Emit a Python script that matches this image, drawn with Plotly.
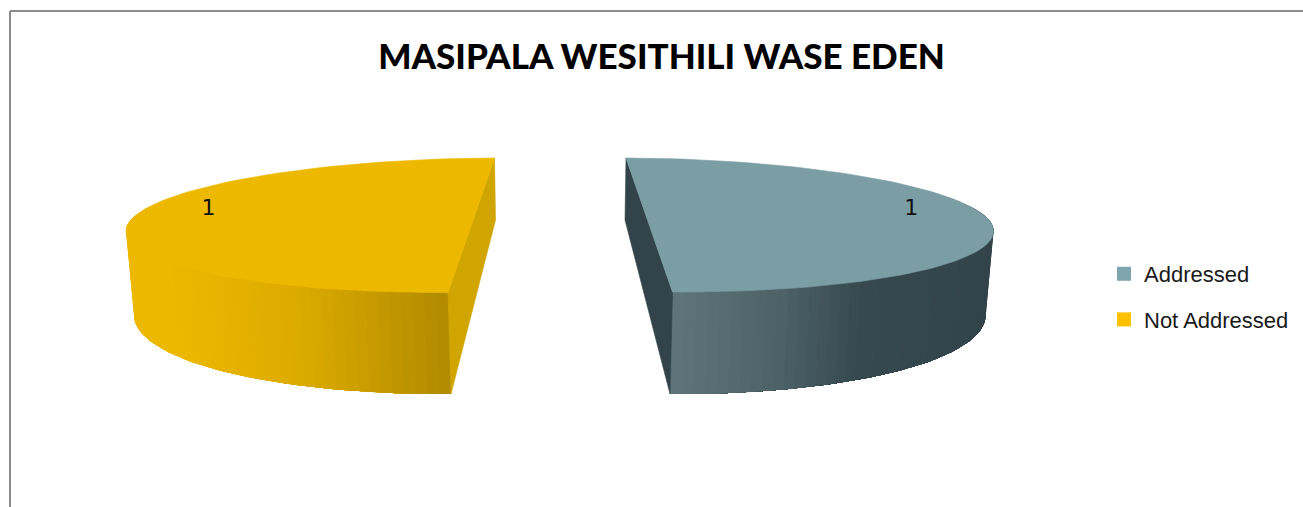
import math
import plotly.graph_objects as go

TITLE = "MASIPALA WESITHILI WASE EDEN"
categories = ["Addressed", "Not Addressed"]
values = [1, 1]
legend_colors = ["#7FA6AE", "#FFC000"]
top_colors = ["#7A9EA4", "#EDB900"]
inner_colors = ["#32444A", "#D1A500"]
# gradient stops along the outer wall: (pixel x, rgb)
wall_stops = [
    [(672, (94, 118, 123)), (780, (76, 98, 102)), (860, (54, 73, 78)), (995, (50, 68, 73))],
    [(125, (236, 184, 0)), (175, (236, 184, 0)), (300, (220, 171, 0)), (450, (176, 138, 0))],
]
# perspective projection of each exploded slice
geometry = [
    dict(top_c=(649.25, 225.0), top_u=(23.25, 67.0), top_v=(343.5, 1.5),
         bot_c=(647.5, 307.0), bot_u=(22.5, 87.0), bot_v=(337.5, 2.0)),
    dict(top_c=(471.25, 225.25), top_u=(-23.25, 67.25), top_v=(-344.5, 1.5),
         bot_c=(473.25, 307.0), bot_u=(-22.25, 87.0), bot_v=(-338.5, 2.0)),
]
LABEL_T, LABEL_R = 72.5, 0.817


def pt(c, u, v, t, r=1.0):
    s, k = math.sin(t), math.cos(t)
    return (c[0] + r * (v[0] * s - u[0] * k), c[1] + r * (v[1] * s - u[1] * k))


def wall_color(stops, x):
    if x <= stops[0][0]:
        return stops[0][1]
    for (x0, c0), (x1, c1) in zip(stops, stops[1:]):
        if x <= x1:
            f = (x - x0) / (x1 - x0)
            return tuple(c0[i] + f * (c1[i] - c0[i]) for i in range(3))
    return stops[-1][1]


def poly(points, color, edge=0.6):
    return go.Scatter(
        x=[p[0] for p in points] + [points[0][0]],
        y=[p[1] for p in points] + [points[0][1]],
        mode="lines", fill="toself", fillcolor=color,
        line=dict(color=color, width=edge),
        showlegend=False, hoverinfo="skip",
    )


fig = go.Figure()
total = sum(values)
for val, g, top, inner, stops in zip(values, geometry, top_colors, inner_colors, wall_stops):
    sweep = 2 * math.pi * val / total
    N = 90
    ts = [sweep * i / N for i in range(N + 1)]
    tc, tu, tv = g["top_c"], g["top_u"], g["top_v"]
    bc, bu, bv = g["bot_c"], g["bot_u"], g["bot_v"]
    # outer wall: overlapping bands painted from the rim to the front, so no seams show
    wall_ts = [t for t in ts if t >= math.radians(70)]
    for i in range(len(wall_ts) - 1):
        rest = wall_ts[i:]
        p = [pt(tc, tu, tv, t) for t in rest] + [pt(bc, bu, bv, t) for t in reversed(rest)]
        a, b = rest[0], rest[1]
        xm = (pt(tc, tu, tv, a)[0] + pt(tc, tu, tv, b)[0] + pt(bc, bu, bv, a)[0] + pt(bc, bu, bv, b)[0]) / 4
        r_, g_, b_ = wall_color(stops, xm)
        fig.add_trace(poly(p, f"rgb({r_:.0f},{g_:.0f},{b_:.0f})", edge=0))
    # inner cut face
    fig.add_trace(poly([pt(tc, tu, tv, 0), pt(tc, tu, tv, sweep),
                        pt(bc, bu, bv, sweep), pt(bc, bu, bv, 0)], inner))
    # top face
    fig.add_trace(poly([pt(tc, tu, tv, t) for t in ts], top))
    # data label
    lx, ly = pt(tc, tu, tv, math.radians(LABEL_T), LABEL_R)
    fig.add_trace(go.Scatter(x=[lx], y=[ly], mode="text", text=[str(val)],
                             textfont=dict(family="DejaVu Sans", size=22, color="#111111"),
                             showlegend=False, hoverinfo="skip"))

for name, color in zip(categories, legend_colors):
    fig.add_trace(go.Scatter(x=[None], y=[None], mode="markers", name=name, legendgroup=name,
                             marker=dict(symbol="square", size=14, color=color)))

frame = dict(color="#8C8C8C", width=2)
fig.add_shape(type="line", x0=10, x1=10, y0=11, y1=507, line=frame, layer="below")
fig.add_shape(type="line", x0=10, x1=1303, y0=11, y1=11, line=frame, layer="below")

fig.update_layout(
    width=1303, height=507,
    margin=dict(l=0, r=0, t=0, b=0),
    paper_bgcolor="white", plot_bgcolor="white",
    xaxis=dict(range=[0, 1303], visible=False, fixedrange=True),
    yaxis=dict(range=[507, 0], visible=False, fixedrange=True),
    title=dict(text=TITLE, x=661.5 / 1303, xanchor="center", y=0.888, yanchor="middle",
               font=dict(family="Lato", size=35, weight=900, color="#000000")),
    legend=dict(x=1104 / 1303, xanchor="left", y=1 - 253 / 507, yanchor="top",
                font=dict(family="Liberation Sans", size=22, color="#1a1a1a"),
                traceorder="grouped", tracegroupgap=14, bgcolor="rgba(0,0,0,0)"),
)
fig.write_html("out.html", post_script="document.body.style.margin='0';",
               config={"displayModeBar": False})
